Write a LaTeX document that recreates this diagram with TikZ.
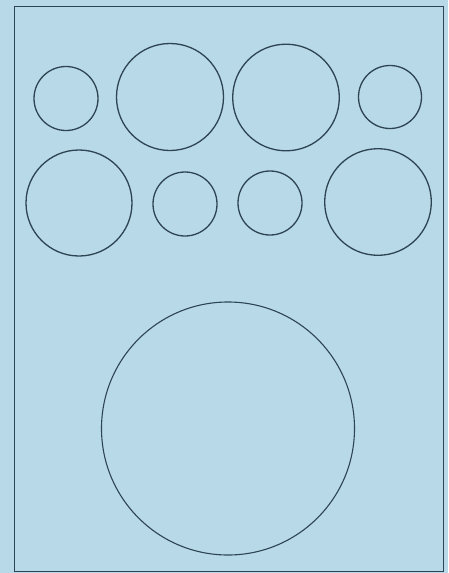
\documentclass[tikz,border=0pt]{standalone}
\usepackage{tikz}
\usetikzlibrary{positioning}
\definecolor{sheet}{HTML}{B7D9E8}
\definecolor{ink}{HTML}{2E4452}
\tikzset{
  frame/.style = {draw=ink, line width=1pt},
  hole/.style  = {circle, draw=ink, line width=1.3pt, inner sep=0pt, outer sep=0pt},
}

\begin{document}
\begin{tikzpicture}[x=1pt, y=-1pt]

  % background sheet and frame
  \fill[sheet] (0,0) rectangle (448,573);
  \useasboundingbox (0,0) rectangle (448,573);
  \draw[frame] (14,6) rectangle (443,571);

  % ----- top row -----
  \foreach \n/\x/\y/\r in {a/66/98.5/32, b/170/97/53.5, c/286/97.5/53.3, d/390/97/31.5}
     {\node[hole, minimum size={2*\r*1pt}] (top\n) at (\x,\y) {};}

  % ----- second row -----
  \foreach \n/\x/\y/\r in {a/79/203/53, b/185/204/32, c/270/203/32, d/378/202/53.3}
     {\node[hole, minimum size={2*\r*1pt}] (mid\n) at (\x,\y) {};}

  % ----- large one -----
  \node[hole, line width=1.1pt, minimum size=253pt] (big) at (228,428.5) {};

\end{tikzpicture}
\end{document}
